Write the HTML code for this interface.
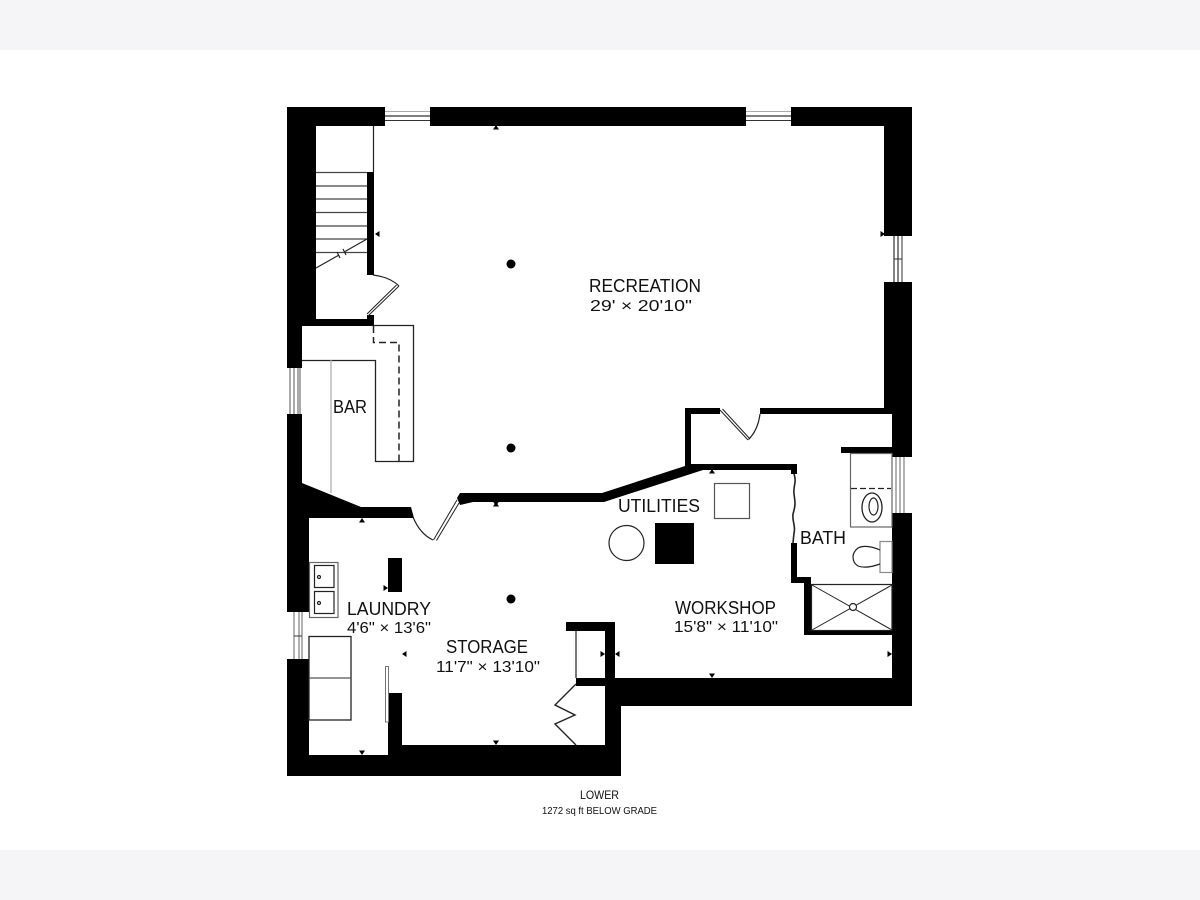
<!DOCTYPE html>
<html><head><meta charset="utf-8"><title>Lower floor plan</title>
<style>
html,body{margin:0;padding:0;background:#fff}
svg{display:block}
text{font-family:"Liberation Sans",sans-serif;fill:#111}
</style></head><body>
<svg width="1200" height="900" viewBox="0 0 1200 900" xmlns="http://www.w3.org/2000/svg">
<rect width="1200" height="900" fill="#fff"/>
<rect width="1200" height="50" fill="#f5f5f7"/>
<rect y="850" width="1200" height="50" fill="#f5f5f7"/>

<!-- thick walls -->
<g fill="#000">
<path d="M287 107H385V126H316V319H374V326H302V368H287Z"/>
<rect x="430" y="107" width="316" height="19"/>
<path d="M791 107H912V236H884V126H791Z"/>
<path d="M884 282H912V457H892V414H884Z"/>
<path d="M892 513H912V706H621V776H287V659H309V755H388V693H402V745H605V686H576V678H605V631H566V622H615V678H892Z"/>
<path d="M287 414H302V483L361 507H411L414 518H309V612H287Z"/>
<path d="M460 493H602L685 466V408H720V414H691V464H797V474H791V470H703L604 502H473L460 505L457 498Z"/>
<path d="M760 408H884V414H760Z"/>
<path d="M791 543H797V577H811V630H892V635H804V583H791Z"/>
<rect x="841" y="447" width="51" height="6"/>
<rect x="367" y="172" width="7" height="103"/>
<rect x="367" y="315" width="7" height="5"/>
<rect x="388" y="558" width="14" height="34"/>
<rect x="655" y="523" width="39" height="41"/>
<circle cx="511" cy="264" r="4.500"/><circle cx="511" cy="448" r="4.500"/><circle cx="511" cy="599" r="4.500"/>
<!-- markers -->
<path d="M496 125l-3 4.500h6Z"/>
<path d="M375 234l4.500-3v6Z"/>
<path d="M885 234l-4.500-3v6Z"/>
<path d="M496 506l-3-4.500h6Z"/><path d="M496 502l-3 4.500h6Z"/>
<path d="M362 518l-3 4.500h6Z"/>
<path d="M712 469l-3 4.500h6Z"/>
<path d="M309 588l-4.500-3v6Z"/>
<path d="M388 588l-4.500-3v6Z"/>
<path d="M402 654l4.500-3v6Z"/>
<path d="M362 755l-3-4.500h6Z"/>
<path d="M496 745l-3-4.500h6Z"/>
<path d="M605 654l-4.500-3v6Z"/>
<path d="M615 654l4.500-3v6Z"/>
<path d="M712 678l-3-4.500h6Z"/>
<path d="M892 654l-4.500-3v6Z"/>
</g>

<!-- windows -->
<g fill="none" stroke="#333" stroke-width="1">
<path d="M385 111.500H430" stroke="#aaa"/><path d="M385 116H430" stroke-width="1.300"/><path d="M385 120.500H430"/>
<path d="M746 111.500H791" stroke="#aaa"/><path d="M746 116H791" stroke-width="1.300"/><path d="M746 120.500H791"/>
<path d="M894 236V282M898 236V282" stroke-width="1.200"/><path d="M902 236V282"/><path d="M894 259H902"/>
<path d="M290 368V414M294 368V414M298 368V414M300 368V414" stroke="#555"/>
<path d="M294 612V659M299 612V659M302 612V659" stroke="#666"/><path d="M294 636H302"/>
<path d="M892 457V513M896 457V513M900 457V513M904 457V513" stroke="#666"/>
</g>

<!-- fixtures & thin lines -->
<g fill="none" stroke="#222" stroke-width="1.200">
<path d="M373.500 126V172"/>
<path d="M316 172.500H367M316 186H367M316 199H367M316 212.500H367M316 226H367M316 239H367M316 252.500H367" stroke="#444"/>
<path d="M316 268L339 255M345 251.500L367 239"/>
<path d="M337 252l3 6M343 249l3 6"/>
<path d="M373 275Q390 277 399 286"/>
<path d="M399 286L368 316M396.500 285L367 314" stroke-width="1"/>

<path d="M374 325.500H413.500V461.500H375.500V360.500H302" stroke-width="1.300"/>
<path d="M331 360V493" stroke="#aaa"/>
<path d="M373.500 326V342.500H399V461" stroke-dasharray="7 4" stroke-width="1.500"/>

<path d="M413 517Q420 534 433 540"/>
<path d="M433.500 540L457 500M436.500 540.500L459 503" stroke-width="1"/>

<path d="M720 410L748 440M722.500 409L750 439" stroke-width="1"/>
<path d="M748.500 439.500Q758 430 760 414"/>

<path d="M794 474c3 8 -1 12 0 20c1 8 2 10 -1 20c-1 8 3 12 1 19l-1 10" stroke-width="1.600"/>

<rect x="850.500" y="453.500" width="41.500" height="73.500" stroke="#666"/>
<path d="M851 488.500H891" stroke-dasharray="6 3" stroke-width="1.300"/>
<ellipse cx="872" cy="507.500" rx="10" ry="14.500" stroke-width="1.300"/>
<ellipse cx="873.500" cy="506.500" rx="4.500" ry="8.500"/>
<rect x="880" y="541.500" width="12" height="31" stroke="#888"/>
<path d="M880 550Q866 544 858 548Q853 552 853 557Q853 563 858 566Q866 569 880 564" stroke-width="1.200"/>

<rect x="811.500" y="584.500" width="80.500" height="46" stroke-width="1.200"/>
<path d="M812 585L892 630M892 585L812 630" stroke-width="1"/>
<circle cx="853" cy="607" r="3.500" fill="#fff"/>

<rect x="714.500" y="483.500" width="35" height="35" stroke="#555"/>
<circle cx="626.500" cy="543" r="17.500"/>

<rect x="309.500" y="562.500" width="28.500" height="55" stroke="#666"/>
<rect x="314.500" y="565.500" width="19.500" height="22"/>
<rect x="314.500" y="591.500" width="19.500" height="22"/>
<circle cx="319" cy="577" r="1.500"/><circle cx="319" cy="603" r="1.500"/>
<rect x="309" y="636.500" width="42" height="83.500" stroke-width="1.300"/>
<path d="M309 678H351" stroke="#555"/>
<rect x="385.500" y="666.500" width="3" height="55.500" stroke="#777" stroke-width="1"/>
<path d="M576 631V678"/>
<path d="M576 684L555 705L575 715L555 724L576 745" stroke-width="1.400"/>
</g>

<!-- labels -->
<text x="589" y="292" font-size="18" textLength="112" lengthAdjust="spacingAndGlyphs">RECREATION</text>
<text x="590" y="311" font-size="16" textLength="102" lengthAdjust="spacingAndGlyphs">29' × 20'10"</text>
<text x="333" y="413" font-size="18" textLength="34" lengthAdjust="spacingAndGlyphs">BAR</text>
<text x="618" y="512" font-size="18" textLength="82" lengthAdjust="spacingAndGlyphs">UTILITIES</text>
<text x="800" y="544" font-size="18" textLength="46" lengthAdjust="spacingAndGlyphs">BATH</text>
<text x="675" y="614" font-size="18" textLength="101" lengthAdjust="spacingAndGlyphs">WORKSHOP</text>
<text x="674" y="632" font-size="16" textLength="104" lengthAdjust="spacingAndGlyphs">15'8" × 11'10"</text>
<text x="347" y="615" font-size="18" textLength="84" lengthAdjust="spacingAndGlyphs">LAUNDRY</text>
<text x="347" y="633" font-size="16" textLength="84" lengthAdjust="spacingAndGlyphs">4'6" × 13'6"</text>
<text x="446" y="653" font-size="18" textLength="82" lengthAdjust="spacingAndGlyphs">STORAGE</text>
<text x="436" y="672" font-size="16" textLength="104" lengthAdjust="spacingAndGlyphs">11'7" × 13'10"</text>
<text x="580" y="799" font-size="12" textLength="39" lengthAdjust="spacingAndGlyphs">LOWER</text>
<text x="542" y="814" font-size="10" textLength="115" lengthAdjust="spacingAndGlyphs">1272 sq ft BELOW GRADE</text>
</svg>
</body></html>
